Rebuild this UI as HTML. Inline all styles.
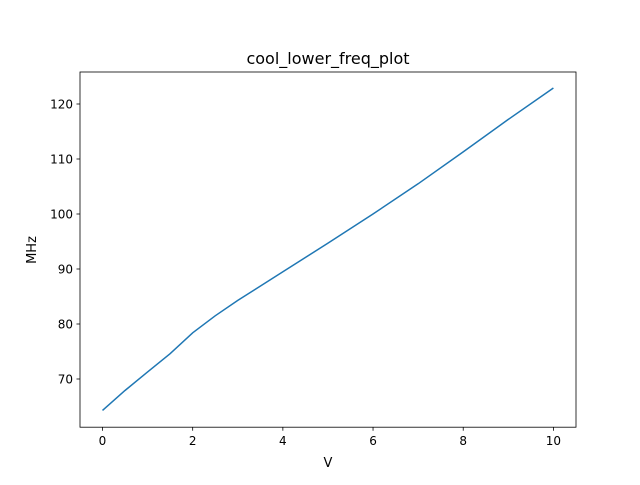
<!DOCTYPE html>
<html><head><meta charset="utf-8"><style>
body{margin:0;background:#fff;font-family:"Liberation Sans","DejaVu Sans",sans-serif;}
svg text{font-family:"DejaVu Sans","Liberation Sans",sans-serif;}
</style></head><body>
<svg id="chart" width="640" height="480" viewBox="0 0 640 480" xmlns="http://www.w3.org/2000/svg">
<rect width="640" height="480" fill="#fff"/>
<text x="328" y="64" text-anchor="middle" font-size="16">cool_lower_freq_plot</text>
<g id="xt"></g>
<g id="yt"></g>
<path id="line" fill="none" stroke="#1f77b4" stroke-width="1.5"/>
<rect x="80" y="72" width="496" height="355.2" fill="none" stroke="#000" stroke-width="0.8"/>
<text x="328" y="467" text-anchor="middle" font-size="13">V</text>
<text transform="translate(36,250) rotate(-90)" text-anchor="middle" font-size="13">MHz</text>
</svg>
<script>
const xVals=[0,0.5,1,1.5,2,2.5,3,4,5,6,7,8,9,10];
const yVals=[64.3,67.9,71.3,74.6,78.4,81.5,84.3,89.5,94.7,100,105.5,111.3,117.2,122.9];
const xTicks=[0,2,4,6,8,10];
const yTicks=[70,80,90,100,110,120];
function X(v){return 102.5+v*45.09;}
function Y(v){return 104+(120-v)*5.5;}
const ns="http://www.w3.org/2000/svg";
const xt=document.getElementById('xt'),yt=document.getElementById('yt');
xTicks.forEach(t=>{
 const l=document.createElementNS(ns,'line');
 l.setAttribute('x1',X(t));l.setAttribute('x2',X(t));l.setAttribute('y1',427.2);l.setAttribute('y2',430.7);l.setAttribute('stroke','#000');l.setAttribute('stroke-width','0.8');
 
 
 xt.appendChild(l);
 const s=document.createElementNS(ns,'text');
 s.setAttribute('x',X(t));s.setAttribute('y',445);s.setAttribute('text-anchor','middle');s.setAttribute('font-size','12');s.textContent=t;
 
 
 xt.appendChild(s);
});
yTicks.forEach(t=>{
 const l=document.createElementNS(ns,'line');
 l.setAttribute('x1',76.5);l.setAttribute('x2',80);l.setAttribute('y1',Y(t));l.setAttribute('y2',Y(t));l.setAttribute('stroke','#000');l.setAttribute('stroke-width','0.8');
 
 
 yt.appendChild(l);
 const s=document.createElementNS(ns,'text');
 s.setAttribute('x',73);s.setAttribute('y',Y(t)+4.5);s.setAttribute('text-anchor','end');s.setAttribute('font-size','12');s.textContent=t;
 
 
 yt.appendChild(s);
});
document.getElementById('line').setAttribute('d',xVals.map((v,i)=>(i?'L':'M')+X(v).toFixed(1)+' '+Y(yVals[i]).toFixed(1)).join(' '));
</script>
</body></html>
